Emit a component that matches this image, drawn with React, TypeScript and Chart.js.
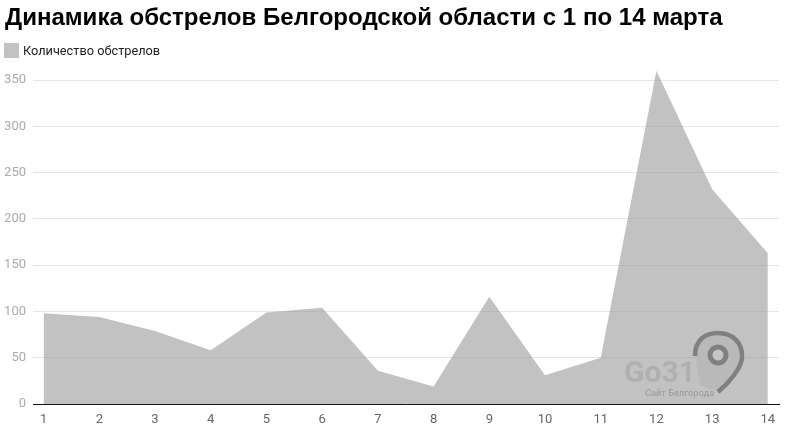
import React, { useEffect, useRef } from "react";
import { Chart, registerables } from "chart.js";

Chart.register(...registerables);

const days = [1, 2, 3, 4, 5, 6, 7, 8, 9, 10, 11, 12, 13, 14];
const shellings = [98, 94, 79, 58, 99, 104, 36, 19, 116, 31, 50, 360, 232, 163];
const yTicks = [0, 50, 100, 150, 200, 250, 300, 350];
const titleText = "Динамика обстрелов Белгородской области с 1 по 14 марта";
const seriesName = "Количество обстрелов";

export default function App() {
  const ref = useRef<HTMLCanvasElement>(null);
  useEffect(() => {
    const chart = new Chart(ref.current!, {
      type: "line",
      data: {
        datasets: [
          {
            label: seriesName,
            data: days.map((d, i) => ({ x: d, y: shellings[i] })),
            fill: "origin",
            backgroundColor: "rgba(153,153,153,0.6)",
            borderWidth: 0,
            borderColor: "rgba(0,0,0,0)",
            pointRadius: 0,
            tension: 0,
          },
        ],
      },
      options: {
        animation: false,
        responsive: false,
        layout: { padding: { left: 5, right: 7, bottom: 0, top: 0 } },
        plugins: {
          title: {
            display: true,
            text: titleText,
            align: "start",
            color: "#000",
            font: { family: "Liberation Sans", size: 24.05, weight: "bold" },
            padding: { top: 4, bottom: 38 },
          },
          legend: { display: false },
          tooltip: { enabled: false },
        },
        scales: {
          x: {
            type: "linear",
            min: 0.81,
            max: 14.2,
            afterBuildTicks: (axis: any) => {
              axis.ticks = days.map((d) => ({ value: d }));
            },
            afterFit: (axis: any) => {
              axis.height = 30;
            },
            grid: { display: false, drawTicks: false },
            border: { display: true, color: "#111", width: 1 },
            ticks: {
              color: "#666",
              font: { family: "Roboto", size: 13 },
              maxRotation: 0,
              autoSkip: false,
              padding: 8,
            },
          },
          y: {
            min: 0,
            max: 360,
            afterBuildTicks: (axis: any) => {
              axis.ticks = yTicks.map((v) => ({ value: v }));
            },
            afterFit: (axis: any) => {
              axis.width = 28;
            },
            grid: { color: "#e6e6e6", drawTicks: false },
            border: { display: false },
            ticks: {
              color: "#aaa",
              font: { family: "Roboto", size: 13 },
              padding: 7,
            },
          },
        },
      },
    } as any);
    return () => chart.destroy();
  }, []);

  return (
    <div style={{ position: "absolute", left: 0, top: 0, width: 786, height: 434, background: "#fff" }}>
      <canvas ref={ref} width={786} height={434} style={{ display: "block" }} />
      <div style={{ position: "absolute", left: 4, top: 43, width: 15, height: 15, background: "#c2c2c2" }} />
      <div
        style={{
          position: "absolute",
          left: 23,
          top: 43,
          fontFamily: "Roboto",
          fontSize: 12.75,
          lineHeight: "15px",
          color: "#222",
          whiteSpace: "nowrap",
        }}
      >
        {seriesName}
      </div>
      <div
        style={{
          position: "absolute",
          left: 624,
          top: 354,
          fontFamily: "Roboto",
          fontWeight: 700,
          fontSize: 30,
          lineHeight: "36px",
          color: "#b0b0b0",
          filter: "blur(0.6px)",
        }}
      >
        Go31
      </div>
      <div
        style={{
          position: "absolute",
          left: 645,
          top: 387,
          fontFamily: "Roboto",
          fontWeight: 500,
          fontSize: 9.25,
          lineHeight: "11px",
          color: "#a0a0a0",
          filter: "blur(0.5px)",
          whiteSpace: "nowrap",
        }}
      >
        Сайт Белгорода
      </div>
      <svg style={{ position: "absolute", left: 0, top: 0, pointerEvents: "none" }} width={786} height={434}>
        <path d="M695 355 C695 340 705 332 718 332 C733 332 743 343 742 358 C741 368 730 382 718 392 L700 385 Z" fill="#b9b9b9" />
        <path d="M695 356 C695 340 705 333 718 333 C733 333 743 343 742 358 C741 368 730 382 718 392" fill="none" stroke="#808080" strokeWidth="4.5" />
        <circle cx="718" cy="355" r="8" fill="#c4c4c4" stroke="#808080" strokeWidth="5" />
      </svg>
    </div>
  );
}
